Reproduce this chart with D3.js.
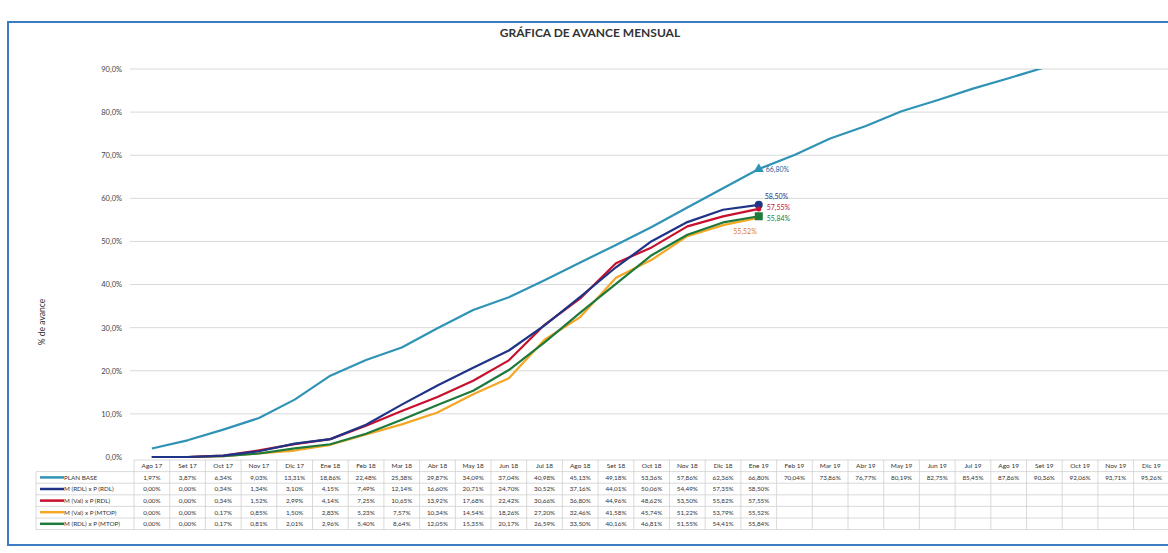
<!DOCTYPE html>
<html><head><meta charset="utf-8">
<script src="https://cdn.jsdelivr.net/npm/d3@7"></script>
<style>
html,body{margin:0;padding:0;background:#fff;overflow:hidden;}
svg{display:block;font-family:Lato,"Open Sans",sans-serif;}
</style></head>
<body>
<svg id="c" width="1168" height="553"></svg>
<script>
const months = ["Ago 17","Set 17","Oct 17","Nov 17","Dic 17","Ene 18","Feb 18","Mar 18","Abr 18","May 18","Jun 18","Jul 18","Ago 18","Set 18","Oct 18","Nov 18","Dic 18","Ene 19","Feb 19","Mar 19","Abr 19","May 19","Jun 19","Jul 19","Ago 19","Set 19","Oct 19","Nov 19","Dic 19"];
const planBase  = [1.97,3.87,6.34,9.03,13.31,18.86,22.48,25.38,29.87,34.09,37.04,40.98,45.13,49.18,53.36,57.86,62.36,66.80,70.04,73.86,76.77,80.19,82.75,85.45,87.86,90.36,92.06,93.71,95.26];
const mRdlPRdl  = [0.00,0.00,0.34,1.34,3.10,4.15,7.49,12.14,16.60,20.71,24.70,30.52,37.16,44.01,50.06,54.49,57.35,58.50];
const mValPRdl  = [0.00,0.00,0.34,1.52,2.99,4.14,7.25,10.65,13.92,17.68,22.42,30.66,36.80,44.96,48.62,53.50,55.82,57.55];
const mValPMtop = [0.00,0.00,0.17,0.85,1.50,2.83,5.23,7.57,10.34,14.54,18.26,27.20,32.46,41.58,45.74,51.22,53.79,55.52];
const mRdlPMtop = [0.00,0.00,0.17,0.81,2.01,2.96,5.40,8.64,12.05,15.35,20.17,26.59,33.50,40.16,46.81,51.55,54.41,55.84];
const yTicks = [0,10,20,30,40,50,60,70,80,90];
const seriesNames = ["PLAN BASE","M (RDL) x P (RDL)","M (Val) x P (RDL)","M (Val) x P (MTOP)","M (RDL) x P (MTOP)"];
const seriesColors = ["#2f93b5","#1f3486","#c8102e","#f5a623","#1e7a3c"];

const series = [planBase, mRdlPRdl, mValPRdl, mValPMtop, mRdlPMtop].map((v,i)=>({name:seriesNames[i], color:seriesColors[i], values:v}));

const svg = d3.select("#c");
const fmt = v => d3.format(".2f")(v).replace(".", ",") + "%";
const fmtAxis = v => d3.format(".1f")(v).replace(".", ",") + "%";

// frame
svg.append("rect").attr("x",8).attr("y",22).attr("width",1180).attr("height",523)
  .attr("fill","none").attr("stroke","#3b7cc4").attr("stroke-width",2);

const x = d3.scaleBand().domain(months).range([134, 134 + 29*35.7]).padding(0);
const y = d3.scaleLinear().domain([0,90]).range([457,69]);
const cx = m => x(m) + x.bandwidth()/2;

// title
svg.append("text").attr("x",590).attr("y",37).attr("text-anchor","middle")
  .attr("font-size",12).attr("font-weight","bold").attr("fill","#333").text("GRÁFICA DE AVANCE MENSUAL");

// gridlines
svg.append("g").selectAll("line").data(yTicks.filter(t=>t>0)).join("line")
  .attr("x1",130).attr("x2",1168).attr("y1",d=>y(d)).attr("y2",d=>y(d))
  .attr("stroke","#d9d9d9").attr("stroke-width",1);

// y axis labels
const yAxis = d3.axisLeft(y).tickValues(yTicks).tickFormat(fmtAxis).tickSize(0).tickPadding(0);
const ga = svg.append("g").attr("transform","translate(122,0)").call(yAxis);
ga.select(".domain").remove();
ga.selectAll("text").attr("font-size",7.5).attr("fill","#444").attr("font-family","Lato,'Open Sans',sans-serif");

// y title
svg.append("text").attr("transform","translate(45,322) rotate(-90)").attr("text-anchor","middle")
  .attr("font-size",8.5).attr("fill","#333").text("% de avance");

// clip
svg.append("clipPath").attr("id","plot").append("rect")
  .attr("x",130).attr("y",y(90)).attr("width",1100).attr("height",y(0)-y(90)+10);

const line = d3.line().x((d,i)=>cx(months[i])).y(d=>y(d)).defined(d=>d!=null);
const gl = svg.append("g").attr("clip-path","url(#plot)");
// draw order: plan, orange, green, red, blue
[0,3,4,2,1].forEach(i=>{
  gl.append("path").datum(series[i].values).attr("d",line)
    .attr("fill","none").attr("stroke",series[i].color).attr("stroke-width",2.2)
    .attr("stroke-linejoin","round");
});

// end markers at Ene 19
const last = 17;
const mx = cx(months[last]);
svg.append("path").attr("d",d3.symbol(d3.symbolTriangle,45)())
  .attr("transform",`translate(${mx},${y(planBase[last])})`).attr("fill",seriesColors[0]);
svg.append("circle").attr("cx",mx).attr("cy",y(mRdlPRdl[last])).attr("r",4).attr("fill",seriesColors[1]);
svg.append("circle").attr("cx",mx).attr("cy",y(mValPRdl[last])).attr("r",2.5).attr("fill",seriesColors[2]);
svg.append("rect").attr("x",mx-4).attr("y",y(mRdlPMtop[last])-4).attr("width",8).attr("height",8).attr("fill",seriesColors[4]);

const lbl = (t,xx,yy,c,anchor)=>svg.append("text").attr("x",xx).attr("y",yy).attr("font-size",7)
  .attr("fill",c).attr("text-anchor",anchor||"start").text(t);
lbl(fmt(planBase[last]), mx+7, y(planBase[last])+3, "#1f5f9e");
lbl(fmt(mRdlPRdl[last]), mx+6, y(mRdlPRdl[last])-6, seriesColors[1]);
lbl(fmt(mValPRdl[last]), mx+8, y(mValPRdl[last])+1.5, seriesColors[2]);
lbl(fmt(mRdlPMtop[last]), mx+8, y(mRdlPMtop[last])+5, seriesColors[4]);
lbl(fmt(mValPMtop[last]), mx-2, y(mValPMtop[last])+16, "#e07b1a", "end");

// data table
const rowH = 11.6, headTop = 460;
const tbl = svg.append("g");
const colL = 36, colR = 134;
const rowsTop = headTop + rowH;
const tableRight = 134 + 29*35.7;
d3.range(0, 7).forEach(k=>{
  const yy = headTop + k*rowH;
  tbl.append("line").attr("x1", k===0?colR:colL).attr("x2",tableRight).attr("y1",yy).attr("y2",yy)
    .attr("stroke","#d0d0d0").attr("stroke-width",0.8);
});
tbl.append("line").attr("x1",colL).attr("x2",colL).attr("y1",rowsTop).attr("y2",headTop+6*rowH).attr("stroke","#d0d0d0").attr("stroke-width",0.8);
months.forEach(m=>{
  tbl.append("line").attr("x1",x(m)).attr("x2",x(m)).attr("y1",headTop).attr("y2",headTop+6*rowH)
    .attr("stroke","#d0d0d0").attr("stroke-width",0.8);
});
tbl.selectAll("text.h").data(months).join("text").attr("class","h")
  .attr("x",m=>cx(m)).attr("y",headTop+rowH/2+2.5).attr("text-anchor","middle")
  .attr("font-size",6.5).attr("fill","#333").text(m=>m);
series.forEach((s,i)=>{
  const yy = rowsTop + i*rowH + rowH/2;
  tbl.append("line").attr("x1",colL+4).attr("x2",colL+28).attr("y1",yy).attr("y2",yy)
    .attr("stroke",s.color).attr("stroke-width",2.5);
  tbl.append("text").attr("x",colL+28).attr("y",yy+2.3).attr("font-size",6.3).attr("fill","#333").text(s.name);
  tbl.selectAll(null).data(s.values).join("text")
    .attr("x",(d,j)=>cx(months[j])).attr("y",yy+2.3).attr("text-anchor","middle")
    .attr("font-size",6.3).attr("fill","#333").text(d=>fmt(d));
});
</script>
</body></html>
